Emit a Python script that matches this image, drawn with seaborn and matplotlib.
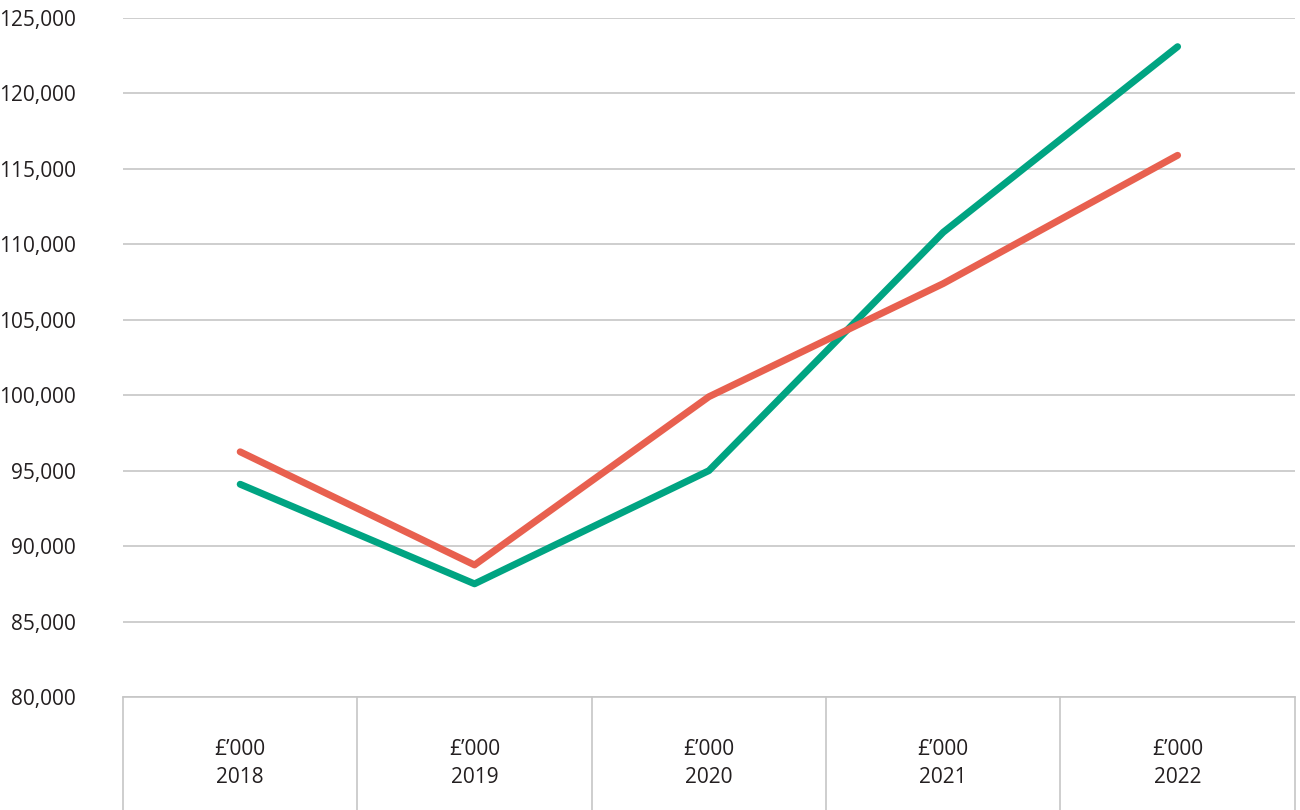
import pandas as pd
import seaborn as sns
import matplotlib.pyplot as plt

years = ["2018", "2019", "2020", "2021", "2022"]
green_vals = [94100, 87500, 95000, 110800, 123100]
red_vals = [96250, 88750, 99900, 107400, 115900]
y_ticks = [80000, 85000, 90000, 95000, 100000, 105000, 110000, 115000, 120000, 125000]

df = pd.DataFrame({
    "year": list(range(len(years))) * 2,
    "value": green_vals + red_vals,
    "series": ["green"] * len(years) + ["red"] * len(years),
})

sns.set_style("white")
plt.rcParams['font.family'] = ['Open Sans', 'DejaVu Sans']

fig = plt.figure(figsize=(13, 8.1), dpi=100)
ax = fig.add_axes([0.0946, 0.1395, 0.9014, 0.8383])

sns.lineplot(data=df, x="year", y="value", hue="series",
             palette={"green": "#00a482", "red": "#e8604f"},
             linewidth=5, legend=False, ax=ax,
             solid_capstyle="round", zorder=3)

ax.set_xlim(-0.5, len(years) - 0.5)
ax.set_ylim(80000, 125000)
ax.set_yticks(y_ticks)
ax.set_yticklabels([f"{v:,}" for v in y_ticks], fontsize=15, color="#231f20")
ax.yaxis.grid(True, color="#c6c6c6", linewidth=1.2)
ax.tick_params(axis="y", length=0, pad=34)

ax.set_xticks(range(len(years)))
ax.set_xticklabels([f"£\u2019000\n{y}" for y in years], fontsize=15,
                   color="#231f20", linespacing=1.45)
ax.tick_params(axis="x", length=0, pad=30)

for s in ["top", "right", "left"]:
    ax.spines[s].set_visible(False)
ax.spines["bottom"].set_color("#c6c6c6")
ax.spines["bottom"].set_linewidth(1.2)

# table-like separators below the plot
for i in range(len(years) + 1):
    ax.plot([i - 0.5, i - 0.5], [0, -0.2], color="#c6c6c6", linewidth=1.2,
            transform=ax.get_xaxis_transform(), clip_on=False)

ax.set_xlabel("")
ax.set_ylabel("")
plt.savefig("out.png", dpi=100)
